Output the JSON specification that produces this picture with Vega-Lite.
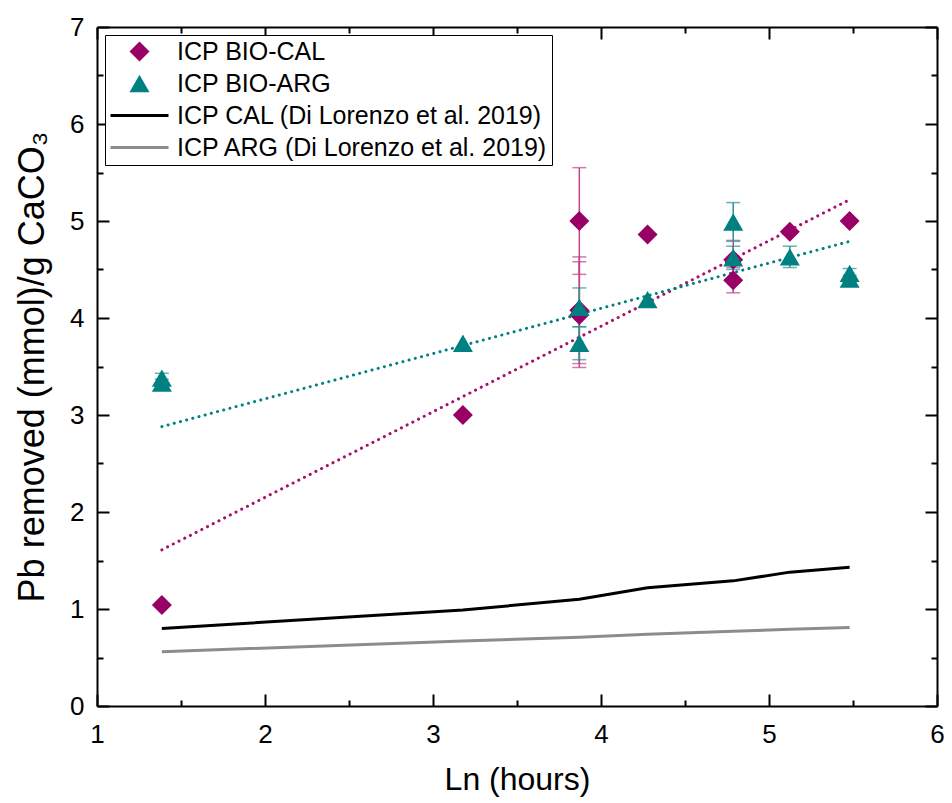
{
  "$schema": "https://vega.github.io/schema/vega-lite/v6.json",
  "width": 840,
  "height": 679,
  "autosize": {"type": "none"},
  "padding": {"left": 97, "top": 27, "right": 15, "bottom": 97},
  "background": "white",
  "config": {
    "view": {"stroke": null},
    "font": "Liberation Sans",
    "legend": {"labelFontSize": 25, "labelFont": "Liberation Sans", "labelLimit": 0, "labelColor": "black"},
    "axis": {
      "grid": false,
      "domainColor": "black",
      "domainWidth": 2,
      "tickColor": "black",
      "tickWidth": 2,
      "labelColor": "black",
      "titleColor": "black",
      "labelFont": "Liberation Sans",
      "titleFont": "Liberation Sans",
      "titleFontWeight": "normal",
      "labelFontSize": 26,
      "titleFontSize": 32
    }
  },
  "datasets": {
    "pts": [
      {"series": "ICP BIO-CAL", "x": 1.386, "y": 1.04},
      {"series": "ICP BIO-CAL", "x": 3.178, "y": 3.0},
      {"series": "ICP BIO-CAL", "x": 3.871, "y": 5.0, "lo": 4.45, "hi": 5.55},
      {"series": "ICP BIO-CAL", "x": 3.871, "y": 4.08, "lo": 3.53, "hi": 4.63},
      {"series": "ICP BIO-CAL", "x": 3.871, "y": 4.03, "lo": 3.49, "hi": 4.58},
      {"series": "ICP BIO-CAL", "x": 4.277, "y": 4.86},
      {"series": "ICP BIO-CAL", "x": 4.787, "y": 4.6, "lo": 4.4, "hi": 4.8},
      {"series": "ICP BIO-CAL", "x": 4.787, "y": 4.39, "lo": 4.26, "hi": 4.52},
      {"series": "ICP BIO-CAL", "x": 5.124, "y": 4.89},
      {"series": "ICP BIO-CAL", "x": 5.48, "y": 5.0},
      {"series": "ICP BIO-ARG", "x": 1.386, "y": 3.38, "lo": 3.33, "hi": 3.43},
      {"series": "ICP BIO-ARG", "x": 1.386, "y": 3.33, "lo": 3.29, "hi": 3.37},
      {"series": "ICP BIO-ARG", "x": 3.178, "y": 3.74},
      {"series": "ICP BIO-ARG", "x": 3.871, "y": 4.11, "lo": 3.91, "hi": 4.31},
      {"series": "ICP BIO-ARG", "x": 3.871, "y": 3.74, "lo": 3.57, "hi": 3.91},
      {"series": "ICP BIO-ARG", "x": 4.277, "y": 4.19},
      {"series": "ICP BIO-ARG", "x": 4.787, "y": 4.99, "lo": 4.79, "hi": 5.19},
      {"series": "ICP BIO-ARG", "x": 4.787, "y": 4.62, "lo": 4.5, "hi": 4.74},
      {"series": "ICP BIO-ARG", "x": 5.124, "y": 4.63, "lo": 4.52, "hi": 4.74},
      {"series": "ICP BIO-ARG", "x": 5.48, "y": 4.46, "lo": 4.41, "hi": 4.51},
      {"series": "ICP BIO-ARG", "x": 5.48, "y": 4.4, "lo": 4.36, "hi": 4.44}
    ],
    "lit": [
      {"series": "ICP CAL (Di Lorenzo et al. 2019)", "x": 1.386, "y": 0.8},
      {"series": "ICP CAL (Di Lorenzo et al. 2019)", "x": 3.178, "y": 0.99},
      {"series": "ICP CAL (Di Lorenzo et al. 2019)", "x": 3.871, "y": 1.1},
      {"series": "ICP CAL (Di Lorenzo et al. 2019)", "x": 4.277, "y": 1.22},
      {"series": "ICP CAL (Di Lorenzo et al. 2019)", "x": 4.787, "y": 1.29},
      {"series": "ICP CAL (Di Lorenzo et al. 2019)", "x": 5.124, "y": 1.38},
      {"series": "ICP CAL (Di Lorenzo et al. 2019)", "x": 5.48, "y": 1.43},
      {"series": "ICP ARG (Di Lorenzo et al. 2019)", "x": 1.386, "y": 0.56},
      {"series": "ICP ARG (Di Lorenzo et al. 2019)", "x": 3.178, "y": 0.67},
      {"series": "ICP ARG (Di Lorenzo et al. 2019)", "x": 3.871, "y": 0.71},
      {"series": "ICP ARG (Di Lorenzo et al. 2019)", "x": 4.277, "y": 0.74},
      {"series": "ICP ARG (Di Lorenzo et al. 2019)", "x": 4.787, "y": 0.77},
      {"series": "ICP ARG (Di Lorenzo et al. 2019)", "x": 5.124, "y": 0.79},
      {"series": "ICP ARG (Di Lorenzo et al. 2019)", "x": 5.48, "y": 0.81}
    ],
    "fit": [
      {"fit": "CAL", "x": 1.386, "y": 1.61},
      {"fit": "CAL", "x": 5.48, "y": 5.22},
      {"fit": "ARG", "x": 1.386, "y": 2.88},
      {"fit": "ARG", "x": 5.48, "y": 4.79}
    ]
  },
  "layer": [
    {
      "data": {"name": "lit"},
      "mark": {"type": "line", "strokeWidth": 3},
      "encoding": {
        "x": {
          "field": "x", "type": "quantitative",
          "scale": {"domain": [1, 6], "nice": false, "zero": false},
          "axis": {"orient": "bottom", "values": [1, 2, 3, 4, 5, 6], "tickSize": -12, "labelPadding": 27, "title": "Ln (hours)", "titlePadding": 17, "labelFlush": false}
        },
        "y": {
          "field": "y", "type": "quantitative",
          "scale": {"domain": [0, 7], "nice": false, "zero": false},
          "axis": {"orient": "left", "values": [0, 1, 2, 3, 4, 5, 6, 7], "tickSize": -12, "labelPadding": 25, "title": "Pb removed (mmol)/g CaCO₃", "titleFontSize": 36, "titlePadding": 18, "labelFlush": false}
        },
        "color": {
          "field": "series", "type": "nominal",
          "scale": {
            "domain": ["ICP BIO-CAL", "ICP BIO-ARG", "ICP CAL (Di Lorenzo et al. 2019)", "ICP ARG (Di Lorenzo et al. 2019)"],
            "range": ["#990066", "#008080", "#000000", "#8c8c8c"]
          },
          "legend": {
            "orient": "none", "legendX": 8, "legendY": 8, "title": null,
            "strokeColor": "black", "fillColor": "white", "padding": 4,
            "labelFontSize": 25, "labelFont": "Liberation Sans", "labelColor": "black", "labelLimit": 0,
            "symbolSize": 400, "symbolOffset": 18, "labelOffset": 25, "rowPadding": 6,
            "encode": {"symbols": {"update": {"fill": {"scale": "color", "field": "value"}, "stroke": {"value": "transparent"}, "strokeWidth": {"value": 0}, "opacity": {"value": 1}}}}
          }
        }
      }
    },
    {
      "data": {"name": "fit"},
      "transform": [{"filter": "datum.fit === 'CAL'"}],
      "mark": {"type": "line", "color": "#a8106a", "strokeWidth": 3, "strokeCap": "round", "strokeDash": [0.1, 6.3]},
      "encoding": {
        "x": {"field": "x", "type": "quantitative", "axis": {"orient": "bottom", "values": [1.5, 2.5, 3.5, 4.5, 5.5], "tickSize": -6, "labels": false, "domain": false, "title": null}},
        "y": {"field": "y", "type": "quantitative", "axis": {"orient": "left", "values": [0.5, 1.5, 2.5, 3.5, 4.5, 5.5, 6.5], "tickSize": -6, "labels": false, "domain": false, "title": null}}
      }
    },
    {
      "data": {"name": "fit"},
      "transform": [{"filter": "datum.fit === 'ARG'"}],
      "mark": {"type": "line", "color": "#008080", "strokeWidth": 3, "strokeCap": "round", "strokeDash": [0.1, 6.3]},
      "encoding": {
        "x": {"field": "x", "type": "quantitative", "axis": {"orient": "top", "values": [1, 2, 3, 4, 5, 6], "tickSize": -12, "labels": false, "domain": true, "title": null}},
        "y": {"field": "y", "type": "quantitative", "axis": {"orient": "right", "values": [0, 1, 2, 3, 4, 5, 6, 7], "tickSize": -12, "labels": false, "domain": true, "title": null}}
      }
    },
    {
      "data": {"name": "pts"},
      "transform": [{"filter": "datum.series === 'ICP BIO-CAL' && isValid(datum.lo)"}],
      "mark": {"type": "errorbar", "ticks": {"size": 14, "thickness": 1.5}, "color": "#c2418b", "thickness": 1.5},
      "encoding": {
        "x": {"field": "x", "type": "quantitative", "axis": null},
        "y": {"field": "lo", "type": "quantitative", "axis": null},
        "y2": {"field": "hi"}
      }
    },
    {
      "data": {"name": "pts"},
      "transform": [{"filter": "datum.series === 'ICP BIO-ARG' && isValid(datum.lo)"}],
      "mark": {"type": "errorbar", "ticks": {"size": 14, "thickness": 1.5}, "color": "#2a9292", "thickness": 1.5},
      "encoding": {
        "x": {"field": "x", "type": "quantitative", "axis": null},
        "y": {"field": "lo", "type": "quantitative", "axis": null},
        "y2": {"field": "hi"}
      }
    },
    {
      "data": {"name": "pts"},
      "mark": {"type": "point", "filled": true, "opacity": 1, "strokeWidth": 0, "size": 400},
      "encoding": {
        "x": {"field": "x", "type": "quantitative", "axis": {"orient": "top", "values": [1.5, 2.5, 3.5, 4.5, 5.5], "tickSize": -6, "labels": false, "domain": false, "title": null}},
        "y": {"field": "y", "type": "quantitative", "axis": {"orient": "right", "values": [0.5, 1.5, 2.5, 3.5, 4.5, 5.5, 6.5], "tickSize": -6, "labels": false, "domain": false, "title": null}},
        "color": {"field": "series", "type": "nominal"},
        "shape": {
          "field": "series", "type": "nominal",
          "scale": {
            "domain": ["ICP BIO-CAL", "ICP BIO-ARG", "ICP CAL (Di Lorenzo et al. 2019)", "ICP ARG (Di Lorenzo et al. 2019)"],
            "range": ["diamond", "triangle-up", "M-2.9,-0.15L2.9,-0.15L2.9,0.15L-2.9,0.15Z", "M-2.9,-0.15L2.9,-0.15L2.9,0.15L-2.9,0.15Z"]
          },
          "legend": {
            "orient": "none", "legendX": 8, "legendY": 8, "title": null,
            "strokeColor": "black", "fillColor": "white", "padding": 4,
            "labelFontSize": 25, "labelFont": "Liberation Sans", "labelColor": "black", "labelLimit": 0,
            "symbolSize": 400, "symbolOffset": 18, "labelOffset": 25, "rowPadding": 6,
            "encode": {"symbols": {"update": {"fill": {"scale": "color", "field": "value"}, "stroke": {"value": "transparent"}, "strokeWidth": {"value": 0}, "opacity": {"value": 1}}}}
          }
        }
      }
    }
  ],
  "resolve": {"axis": {"x": "independent", "y": "independent"}}
}
